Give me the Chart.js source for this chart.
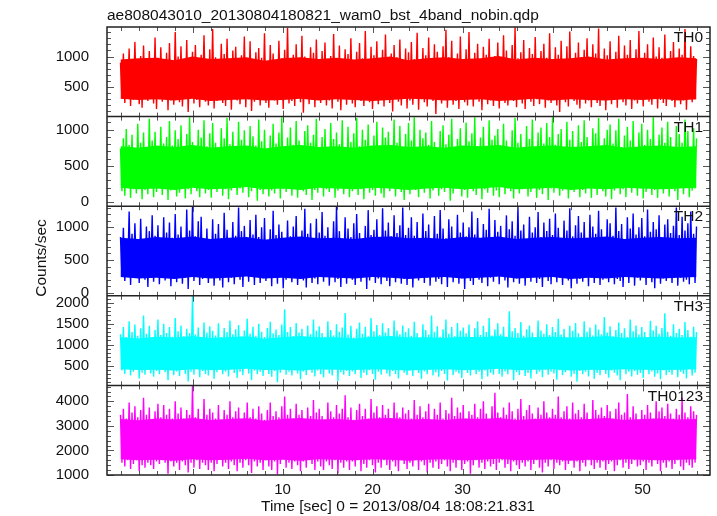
<!DOCTYPE html>
<html>
<head>
<meta charset="utf-8">
<script src="https://cdn.jsdelivr.net/npm/chart.js"></script>
<style>
  html, body { margin: 0; padding: 0; background: #fff; }
  #wrap { position: relative; width: 717px; height: 516px; }
  .lbl { position: absolute; height: 18px; line-height: 18px; white-space: nowrap;
         font: 15.5px "Liberation Sans", Arial, sans-serif; color: #111; }
  #ylab { left: -9px; top: 249px; width: 100px; text-align: center;
          transform: rotate(-90deg); transform-origin: 50% 50%; }
  #xlab { left: 261px; top: 497px; }
</style>
</head>
<body>
<div id="wrap">
  <canvas id="c" width="717" height="516"></canvas>
  <div id="ylab" class="lbl">Counts/sec</div>
  <div id="xlab" class="lbl">Time [sec] 0 = 2013/08/04 18:08:21.831</div>
</div>
<script>
// ---- data ----
const TITLE = 'ae808043010_20130804180821_wam0_bst_4band_nobin.qdp';
const T0 = -8, DT = 0.16;               // light-curve samples: first time, spacing (s)
const CORE_T0 = -8, CORE_DT = 2;        // dense-core envelope samples
const X_MIN = -9.5, X_MAX = 57.5;
const X_TICKS = [0, 10, 20, 30, 40, 50];

const PANEL_NAMES = ['TH0', 'TH1', 'TH2', 'TH3', 'TH0123'];
const Y_MIN  = [16, -55, -45, 24, 1000];
const Y_MAX  = [1484, 1180, 1320, 2170, 4650];
const Y_TICKS = [[500, 1000], [0, 500, 1000], [0, 500, 1000], [500, 1000, 1500, 2000], [1000, 2000, 3000, 4000]];
const Y_MAJOR = [500, 500, 500, 500, 1000];
const Y_MINOR = [100, 100, 100, 100, 200];

// light-curve local peaks / troughs (counts/sec)
const TH0 = [
900,310,1050,240,820,380,1130,190,960,290,1240,350,870,220,1010,160,1180,330,940,270,
1090,400,860,230,1310,140,980,300,1150,260,890,370,1060,120,1220,280,930,210,1400,340,
1000,250,1170,180,880,320,1270,90,950,360,1080,230,1190,290,840,170,1030,390,1350,260,
910,200,1120,330,1450,150,990,270,870,380,1210,240,1040,190,1290,310,920,130,1100,360,
1160,280,850,220,1020,350,1330,170,960,300,1250,110,890,260,1070,390,1140,200,980,320,
1380,240,900,160,1190,340,1050,280,830,210,1260,370,970,140,1110,300,1470,230,880,270,
1030,190,1200,330,940,250,1340,80,1000,360,870,220,1150,290,1060,170,1280,310,920,240,
1090,350,1230,200,860,280,1010,150,1370,330,950,260,1180,120,890,380,1120,210,1040,300,
1300,230,910,170,1080,340,1220,270,970,190,1420,310,880,250,1160,140,1020,360,1250,220,
940,290,1110,180,1360,320,850,240,1050,100,1190,370,990,260,1280,200,900,330,1130,150,
1070,280,1240,210,960,350,1390,130,880,300,1140,250,1020,180,1310,340,930,270,1200,60,
1080,320,870,230,1170,290,1440,160,990,380,1260,210,910,270,1050,140,1330,310,960,250,
1120,200,1400,340,890,180,1060,300,1210,260,940,120,1160,370,1030,220,1290,280,870,190,
1010,330,1230,150,950,290,1350,240,1100,200,880,360,1190,270,1480,170,970,310,1070,230,
1270,140,920,350,1140,260,1040,190,1320,300,860,220,1090,380,1210,160,980,280,1380,240,
900,310,1150,200,1030,90,1260,340,940,250,1170,180,1410,320,880,270,1060,210,1230,150,
990,360,1110,230,1300,280,870,170,1200,330,1050,240,1460,190,930,300,1130,120,1020,350,
1250,220,960,290,1080,160,1340,310,910,250,1180,200,1030,370,1270,140,890,280,1120,230,
1420,330,940,180,1060,300,1200,260,870,210,1310,340,1000,150,1150,290,980,240,1360,190,
910,310,1090,270,1240,170,960,350,1130,220,1030,280,1450,130,890,320,1170,250,1010,300,
960];
const TH1 = [
740,150,880,90,1010,200,790,60,930,180,700,120,1080,230,820,40,960,170,760,110,
1150,210,850,70,970,140,720,250,1040,100,810,190,900,30,1120,160,780,220,990,80,
870,130,1060,240,750,50,940,180,1170,110,830,200,710,150,1000,70,890,230,1130,120,
770,170,950,60,1090,210,820,140,730,250,1020,90,880,180,1160,40,800,160,970,220,
700,100,1110,190,860,130,990,240,760,70,1050,150,910,200,780,20,1140,170,840,110,
1000,230,730,80,920,160,1080,120,810,210,960,50,1170,180,750,140,890,240,1030,90,
790,190,1120,60,850,220,710,150,980,100,1060,200,820,30,930,170,1150,130,760,250,
900,80,1010,180,740,140,1090,210,870,60,960,160,800,230,1130,110,720,190,1040,70,
830,150,950,240,1160,100,770,180,1000,40,860,220,1070,130,740,170,920,90,1110,200,
780,120,1030,60,890,210,970,150,710,250,1140,80,820,190,1050,140,760,30,940,180,
1090,110,850,230,1170,170,730,70,1000,200,880,130,960,240,790,50,1120,160,830,220,
710,90,980,180,1060,140,800,210,930,20,1150,120,760,190,870,250,1020,80,740,170,
1100,60,840,230,950,150,1170,100,770,200,890,40,1040,180,730,130,1130,220,860,90,
920,160,1010,70,780,240,1080,110,850,190,700,150,990,50,1160,210,820,120,940,180,
760,230,1050,80,870,140,1140,200,740,60,960,170,1030,110,810,250,1090,30,900,190,
1170,130,790,210,940,90,1010,160,720,230,1110,50,860,180,980,140,750,200,1060,70,
830,170,1130,120,900,240,770,60,1020,190,950,100,1160,220,740,150,880,80,1000,210,
1070,40,810,160,990,230,1150,110,760,180,920,70,1040,200,850,130,1120,250,730,90,
960,190,1080,50,790,140,1000,220,870,100,1170,170,740,60,930,210,1030,120,820,240,
1110,80,900,180,760,150,1050,30,940,200,820,110,1140,230,980,70,750,160,1020,190,
880];
const TH2 = [
850,260,990,180,780,300,1240,120,900,230,1060,310,820,150,1130,270,760,200,1010,90,
940,240,1180,170,870,290,1030,130,800,250,1150,190,920,320,1070,100,840,220,1200,160,
890,280,1010,140,780,230,1270,60,950,300,1315,180,860,250,1090,120,1160,210,820,290,
980,150,740,240,1120,110,900,270,1050,190,830,80,1220,310,960,160,790,230,1080,130,
870,260,1300,200,940,90,1020,280,760,170,1110,240,890,120,1190,300,850,150,1000,220,
1140,180,810,260,970,100,1250,230,880,140,1040,290,930,70,770,200,1100,250,860,160,
1010,310,1170,120,840,240,950,190,1280,80,900,270,1060,150,790,220,1130,130,920,280,
1230,170,870,250,1000,110,760,300,1090,160,1310,210,940,90,820,260,1150,140,980,230,
850,200,1060,120,1200,280,910,170,790,240,1020,60,1260,190,880,310,960,150,1120,220,
830,130,1290,270,950,180,1070,100,860,250,1180,160,910,290,1030,140,1300,210,880,120,
990,240,1150,80,870,260,1080,190,760,300,1210,150,940,230,1040,110,820,280,1170,170,
900,210,1260,130,980,250,830,90,1120,270,1010,160,780,310,1190,140,920,220,1070,60,
860,290,1000,180,1240,120,890,240,1140,200,770,150,1050,280,960,100,1280,230,840,170,
1110,250,930,130,1020,300,810,190,1180,80,970,260,1090,160,870,220,1310,140,950,270,
1040,110,800,240,1160,170,920,290,1000,150,1230,210,850,90,1070,260,940,180,1130,130,
880,300,1210,160,990,230,760,120,1100,280,950,190,1290,70,860,250,1030,140,1170,210,
920,170,1080,260,840,100,1190,230,1010,150,900,290,1250,120,970,200,790,270,1120,160,
1060,240,870,130,1300,210,940,180,1050,90,820,260,1150,150,980,300,1210,110,890,230,
1000,190,1140,280,860,120,1270,240,930,160,1080,70,970,250,1180,140,840,220,1040,180,
1120,260,910,150,1020,290,1300,110,880,230,1160,170,950,200,1060,130,1240,270,900,150,
1010];
const TH3 = [
1250,380,1420,300,1180,450,1560,260,1300,350,1480,420,1210,190,1390,330,1700,280,1260,400,
1450,310,1170,230,1350,370,1600,290,1230,440,1500,340,1280,150,1420,390,1190,270,1640,360,
1320,250,1460,410,1200,300,1380,120,1270,350,2165,280,1240,430,1410,220,1160,370,1530,300,
1290,260,1440,390,1330,180,1220,340,1510,450,1180,290,1400,360,1300,240,1580,410,1250,320,
1370,200,1470,350,1190,270,1340,430,1620,310,1260,150,1430,380,1210,290,1500,350,1310,250,
1180,420,1400,300,1550,230,1270,370,1360,100,1230,330,1480,440,1850,280,1300,350,1420,260,
1200,390,1520,310,1290,170,1380,360,1170,270,1460,420,1250,330,1600,240,1330,380,1440,290,
1280,220,1190,400,1560,310,1350,260,1220,430,1490,130,1310,340,1410,280,1760,370,1240,250,
1450,360,1170,290,1380,410,1530,200,1260,330,1430,270,1200,390,1640,300,1320,160,1470,350,
1230,280,1510,420,1290,310,1400,240,1180,370,1580,300,1340,190,1250,410,1460,330,1300,270,
1390,380,1210,250,1550,430,1280,320,1170,180,1490,360,1350,290,1240,400,1700,260,1310,340,
1440,230,1190,370,1370,300,1600,140,1260,420,1420,270,1200,350,1520,310,1330,200,1410,390,
1270,320,1480,260,1160,400,1390,290,1560,350,1230,170,1450,380,1300,240,1640,330,1220,280,
1360,440,1510,300,1250,230,1430,360,1190,290,1800,410,1320,150,1400,340,1280,270,1540,380,
1210,250,1370,320,1460,190,1290,430,1180,300,1580,360,1340,220,1260,400,1490,280,1230,350,
1420,310,1300,160,1620,390,1240,270,1380,340,1170,420,1450,230,1330,300,1520,110,1270,370,
1190,290,1560,350,1310,240,1410,400,1220,180,1480,320,1360,270,1250,430,1660,300,1290,210,
1440,380,1200,330,1350,260,1530,150,1280,410,1390,290,1180,350,1600,240,1320,370,1460,280,
1240,320,1420,200,1300,440,1170,290,1570,360,1340,230,1450,310,1260,170,1400,390,1750,270,
1310,340,1210,280,1490,400,1280,220,1380,350,1230,300,1540,190,1350,420,1190,260,1430,330,
1300];
const TH0123 = [
3450,1500,3700,1350,3300,1600,3950,1250,3550,1450,3800,1600,3350,1150,3650,1400,4150,1300,3450,1500,
3750,1400,3250,1250,3600,1550,3900,1450,3350,1600,3850,1500,3450,1050,3700,1550,3300,1350,4000,1500,
3500,1200,3750,1550,3300,1400,3650,1100,3450,1500,4640,1300,3350,1600,3700,1250,3250,1500,4100,1400,
3450,1200,3700,1500,3550,1150,3300,1450,3850,1650,3250,1350,3650,1500,3450,1250,4000,1550,3350,1400,
3600,1150,3750,1500,3250,1300,3550,1600,3950,1400,3350,1080,3700,1550,3300,1350,3800,1500,3500,1200,
3250,1600,3650,1350,3950,1200,3400,1550,3600,1020,3350,1450,3800,1650,4200,1300,3450,1500,3700,1250,
3300,1550,3900,1400,3450,1150,3650,1550,3250,1300,3750,1600,3400,1450,4050,1200,3550,1550,3700,1350,
3400,1200,3250,1550,3950,1400,3600,1250,3350,1600,3850,1060,3500,1500,3700,1300,4250,1550,3350,1200,
3750,1550,3250,1350,3650,1600,3900,1150,3400,1450,3700,1300,3300,1600,4100,1400,3550,1100,3800,1500,
3350,1300,3850,1600,3450,1400,3700,1200,3250,1550,3950,1350,3550,1150,3350,1600,3750,1450,3500,1250,
3650,1500,3300,1350,4050,1650,3450,1200,3800,1550,3350,1400,3600,1100,3900,1500,3250,1300,3700,1550,
3450,1250,3950,1450,3300,1600,3650,1350,3500,1150,4150,1500,3400,1300,3750,1600,3550,1200,3850,1450,
3300,1550,3600,1050,3450,1400,3900,1600,3350,1300,3700,1500,4000,1250,3500,1550,3250,1350,3800,1450,
4350,1200,3550,1500,3350,1600,3750,1300,3450,1450,3950,1150,3600,1550,3300,1400,3700,1250,4100,1500,
3400,1350,3650,1550,3850,1200,3500,1450,3300,1600,3750,1300,3450,1100,4000,1500,3550,1350,3350,1600,
3700,1250,3450,1500,4200,1400,3350,1550,3600,1200,3800,1450,3300,1650,3950,1300,3500,1550,3650,1150,
3350,1500,3900,1350,3550,1600,3250,1400,4050,1250,3650,1500,3450,1300,3750,1550,3400,1200,3850,1450,
3600,1550,3300,1150,3700,1400,3950,1600,3450,1300,3550,1500,4300,1250,3350,1450,3800,1600,3500,1350,
3250,1400,3650,1550,3450,1200,3850,1500,3550,1350,3300,1600,4000,1450,3600,1150,3750,1500,3400,1300,
3900,1550,3500,1250,3300,1450,3700,1600,3450,1350,4150,1200,3550,1500,3350,1400,3800,1300,3600,1500,
3450];

// dense-core envelope (lower / upper edge of the solid band)
const TH0_CORE_LO = [310,290,300,280,310,270,290,300,280,290,310,280,300,290,270,290,310,300,280,290,300,270,290,310,280,300,290,280,300,290,310,280,300];
const TH0_CORE_HI = [950,970,980,940,1000,960,970,990,930,970,990,960,980,950,970,1000,940,970,990,960,970,1010,950,980,960,970,1000,950,970,980,960,990,970];
const TH1_CORE_LO = [200,180,190,170,200,180,190,210,180,190,170,200,190,180,200,190,170,190,200,180,190,210,180,190,200,170,190,180,200,190,180,190,200];
const TH1_CORE_HI = [770,750,780,760,790,750,770,780,740,770,790,760,770,750,780,790,760,770,750,780,770,790,750,770,780,760,770,790,750,770,780,760,770];
const TH2_CORE_LO = [240,220,230,210,240,220,230,250,220,230,210,240,230,220,240,230,210,230,240,220,230,250,220,230,240,210,230,220,240,230,220,230,240];
const TH2_CORE_HI = [840,820,850,830,860,820,840,850,810,840,860,830,840,820,850,860,830,840,820,850,840,860,820,840,850,830,840,860,820,840,850,830,840];
const TH3_CORE_LO = [410,390,400,380,410,390,400,420,390,400,380,410,400,390,410,400,380,400,410,390,400,420,390,400,410,380,400,390,410,400,390,400,410];
const TH3_CORE_HI = [1180,1150,1190,1170,1210,1160,1180,1200,1140,1180,1210,1170,1180,1150,1190,1210,1170,1180,1160,1190,1180,1210,1160,1180,1190,1170,1180,1210,1160,1180,1190,1170,1180];
const TH0123_CORE_LO = [1640,1600,1620,1580,1640,1600,1620,1660,1600,1620,1580,1640,1620,1600,1640,1620,1580,1620,1640,1600,1620,1660,1600,1620,1640,1580,1620,1600,1640,1620,1600,1620,1640];
const TH0123_CORE_HI = [3280,3230,3300,3260,3320,3240,3280,3310,3210,3280,3320,3260,3280,3230,3300,3320,3260,3280,3240,3300,3280,3320,3240,3280,3300,3260,3280,3320,3240,3280,3300,3260,3280];

const SERIES = [TH0, TH1, TH2, TH3, TH0123];
const CORE_LO = [TH0_CORE_LO, TH1_CORE_LO, TH2_CORE_LO, TH3_CORE_LO, TH0123_CORE_LO];
const CORE_HI = [TH0_CORE_HI, TH1_CORE_HI, TH2_CORE_HI, TH3_CORE_HI, TH0123_CORE_HI];

// ---- styles ----
const COLORS = ['#ff0000', '#00ff00', '#0000ff', '#00ffff', '#ff00ff'];
const FONT = '"Liberation Sans", Arial, sans-serif';
const TEXT = '#111';

const toXY = (vals, t0, dt) => vals.map((v, i) => ({ x: t0 + i * dt, y: v }));
const datasets = [];
SERIES.forEach((vals, k) => {
  const base = { yAxisID: 'y' + k, pointRadius: 0, tension: 0 };
  datasets.push(Object.assign({}, base, {
    label: PANEL_NAMES[k] + ' core lo', data: toXY(CORE_LO[k], CORE_T0, CORE_DT),
    borderWidth: 0, borderColor: 'rgba(0,0,0,0)', fill: false }));
  datasets.push(Object.assign({}, base, {
    label: PANEL_NAMES[k] + ' core hi', data: toXY(CORE_HI[k], CORE_T0, CORE_DT),
    borderWidth: 0, borderColor: 'rgba(0,0,0,0)', backgroundColor: COLORS[k], fill: '-1' }));
  datasets.push(Object.assign({}, base, {
    label: PANEL_NAMES[k], data: toXY(vals, T0, DT),
    borderColor: COLORS[k], borderWidth: 1.4, borderJoinStyle: 'bevel', fill: false }));
});

const scales = {
  x: {
    type: 'linear', position: 'bottom', bounds: 'data',
    min: X_MIN, max: X_MAX,
    grid: { display: false }, border: { display: false },
    afterBuildTicks: s => { s.ticks = X_TICKS.map(v => ({ value: v })); },
    ticks: { color: TEXT, font: { family: FONT, size: 15 }, padding: -2, maxRotation: 0, autoSkip: false },
    afterFit: s => { s.height = 41; }
  }
};
// stacked y axes: later-defined axes are placed higher, so define bottom panel first
for (let k = PANEL_NAMES.length - 1; k >= 0; k--) {
  scales['y' + k] = {
    type: 'linear', position: 'left', stack: 'panels', stackWeight: 1, bounds: 'data',
    min: Y_MIN[k], max: Y_MAX[k],
    grid: { display: false }, border: { display: false },
    afterBuildTicks: s => { s.ticks = Y_TICKS[k].map(v => ({ value: v })); },
    ticks: { autoSkip: false, padding: 10, color: TEXT, font: { family: FONT, size: 15 }, callback: v => String(v) },
    afterFit: s => { s.width = 107; }
  };
}

const panelPlugin = {
  id: 'panels',
  beforeDatasetDraw(chart, args) {
    const s = chart.scales[chart.data.datasets[args.index].yAxisID];
    const ca = chart.chartArea;
    chart.ctx.save();
    chart.ctx.beginPath();
    chart.ctx.rect(ca.left, s.top, ca.right - ca.left, s.bottom - s.top);
    chart.ctx.clip();
  },
  afterDatasetDraw(chart) { chart.ctx.restore(); },
  afterDatasetsDraw(chart) {
    const ctx = chart.ctx;
    const { left, right, top, bottom } = chart.chartArea;
    const xs = chart.scales.x;
    const seg = (x1, y1, x2, y2) => { ctx.beginPath(); ctx.moveTo(x1, y1); ctx.lineTo(x2, y2); ctx.stroke(); };
    ctx.save();
    PANEL_NAMES.forEach((name, k) => {
      const s = chart.scales['y' + k];
      ctx.strokeStyle = '#555';
      ctx.lineWidth = 1;
      const minor = Y_MINOR[k];
      for (let v = Math.ceil(s.min / minor) * minor; v <= s.max; v += minor) {
        const y = Math.round(s.getPixelForValue(v)) + 0.5;
        const len = (v % Y_MAJOR[k] === 0) ? 7 : 4;
        seg(left, y, left + len, y);
        seg(right - len, y, right, y);
      }
      for (let t = -8; t <= 56; t += 2) {
        const x = Math.round(xs.getPixelForValue(t)) + 0.5;
        const len = (t % 10 === 0) ? 6 : 4;
        seg(x, s.top, x, s.top + len);
        seg(x, s.bottom, x, s.bottom - len);
      }
      ctx.fillStyle = TEXT;
      ctx.font = '15.5px ' + FONT;
      ctx.textAlign = 'right';
      ctx.textBaseline = 'middle';
      ctx.fillText(name, right - 7, s.top + 11);
    });
    ctx.strokeStyle = '#222';
    ctx.lineWidth = 1.5;
    ctx.strokeRect(left, top, right - left, bottom - top);
    for (let k = 1; k < PANEL_NAMES.length; k++) {
      const y = chart.scales['y' + k].top;
      seg(left, y, right, y);
    }
    ctx.restore();
  }
};

new Chart(document.getElementById('c'), {
  type: 'line',
  data: { datasets },
  options: {
    responsive: false,
    animation: false,
    devicePixelRatio: 1,
    layout: { padding: { left: 0, right: 7, top: 0, bottom: 0 } },
    plugins: {
      legend: { display: false },
      tooltip: { enabled: false },
      title: { display: true, text: TITLE, align: 'start', fullSize: false, color: TEXT,
               font: { family: FONT, size: 15.5, weight: 'normal' }, padding: { top: 6, bottom: 2.4 } }
    },
    scales
  },
  plugins: [panelPlugin]
});
</script>
</body>
</html>
